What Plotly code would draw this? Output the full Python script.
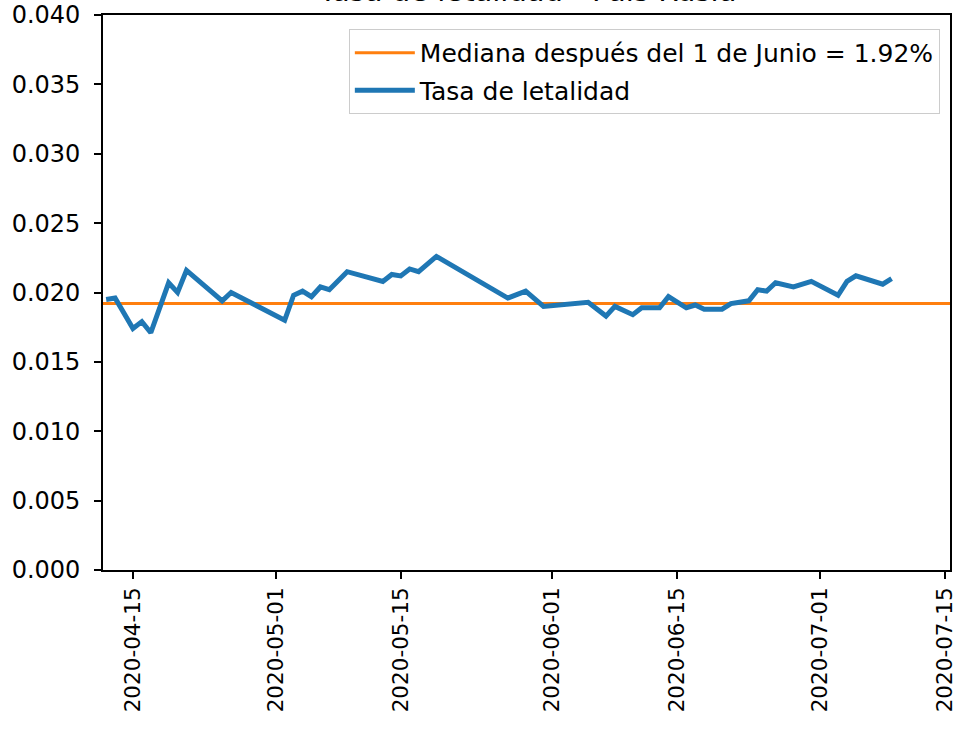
import plotly.graph_objects as go

# ---- data ----
dates = ["2020-04-12", "2020-04-13", "2020-04-15", "2020-04-16", "2020-04-17",
         "2020-04-19", "2020-04-20", "2020-04-21", "2020-04-25", "2020-04-26",
         "2020-05-02", "2020-05-03", "2020-05-04", "2020-05-05", "2020-05-06",
         "2020-05-07", "2020-05-09", "2020-05-13", "2020-05-14", "2020-05-15",
         "2020-05-16", "2020-05-17", "2020-05-19", "2020-05-27", "2020-05-29",
         "2020-05-31", "2020-06-05", "2020-06-07", "2020-06-08", "2020-06-10",
         "2020-06-11", "2020-06-13", "2020-06-14", "2020-06-16", "2020-06-17",
         "2020-06-18", "2020-06-20", "2020-06-21", "2020-06-23", "2020-06-24",
         "2020-06-25", "2020-06-26", "2020-06-28", "2020-06-30", "2020-07-03",
         "2020-07-04", "2020-07-05", "2020-07-06", "2020-07-08", "2020-07-09"]
tasa = [0.0195, 0.0196, 0.0174, 0.0179, 0.0171,
        0.0207, 0.0200, 0.0216, 0.0194, 0.0200,
        0.0180, 0.0198, 0.0201, 0.0197, 0.0204,
        0.0202, 0.0215, 0.0208, 0.0213, 0.0212,
        0.0217, 0.0215, 0.0226, 0.0196, 0.0201,
        0.0190, 0.0193, 0.0183, 0.0190, 0.0184,
        0.0189, 0.0189, 0.0197, 0.0189, 0.0191,
        0.0188, 0.0188, 0.0192, 0.0194, 0.0202,
        0.0201, 0.0207, 0.0204, 0.0208, 0.0198,
        0.0208, 0.0212, 0.0210, 0.0206, 0.0210]

mediana = 0.0192
mediana_span = ["2020-04-01", "2020-07-31"]

x_tick_vals = ["2020-04-15", "2020-05-01", "2020-05-15", "2020-06-01",
               "2020-06-15", "2020-07-01", "2020-07-15"]
x_tick_text = ["2020-04-15", "2020-05-01", "2020-05-15", "2020-06-01",
               "2020-06-15", "2020-07-01", "2020-07-15"]
x_range = ["2020-04-11 15:30", "2020-07-15 13:00"]
y_range = [0, 0.04]

title_text = "Tasa de letalidad - País Rusia"
label_mediana = "Mediana después del 1 de Junio = 1.92%"
label_tasa = "Tasa de letalidad"

FONT = "DejaVu Sans"

fig = go.Figure()
fig.add_trace(go.Scatter(
    x=mediana_span, y=[mediana] * len(mediana_span), mode="lines",
    line=dict(color="#ff7f0e", width=3), name=label_mediana,
    legendgroup="a"))
fig.add_trace(go.Scatter(
    x=dates, y=tasa, mode="lines",
    line=dict(color="#1f77b4", width=5), name=label_tasa,
    legendgroup="b"))

axis_common = dict(showline=True, linecolor="black", linewidth=1.6, mirror=True,
                   ticks="outside", ticklen=7, tickwidth=1.6, tickcolor="black",
                   showgrid=False, zeroline=False, automargin=False)

fig.update_xaxes(type="date", range=x_range, tickvals=x_tick_vals,
                 ticktext=x_tick_text, tickangle=-90,
                 ticklabeloverflow="allow",
                 tickfont=dict(family=FONT, size=21.5, color="black"),
                 **axis_common)
fig.update_yaxes(range=y_range, dtick=0.005, tickformat=".3f",
                 tickfont=dict(family=FONT, size=24, color="black"),
                 ticklabelstandoff=9,
                 **axis_common)

fig.update_layout(
    width=953, height=740,
    margin=dict(l=103, r=3, t=15, b=170),
    plot_bgcolor="white", paper_bgcolor="white",
    font=dict(family=FONT, color="black"),
    legend=dict(x=0.988, y=0.975, xanchor="right", yanchor="top",
                bgcolor="rgba(255,255,255,0.8)", bordercolor="#cccccc",
                borderwidth=1, font=dict(family=FONT, size=25, color="black"),
                tracegroupgap=2, itemwidth=60),
    annotations=[dict(text=title_text, xref="paper", yref="paper",
                      x=0.5, y=1, xanchor="center", yanchor="bottom",
                      yshift=5, showarrow=False,
                      font=dict(family=FONT, size=29, color="black"))],
)

fig.write_html("out.html",
               config={"displayModeBar": False},
               post_script="document.body.style.margin='0px';"
                           "document.body.style.overflow='hidden';")
